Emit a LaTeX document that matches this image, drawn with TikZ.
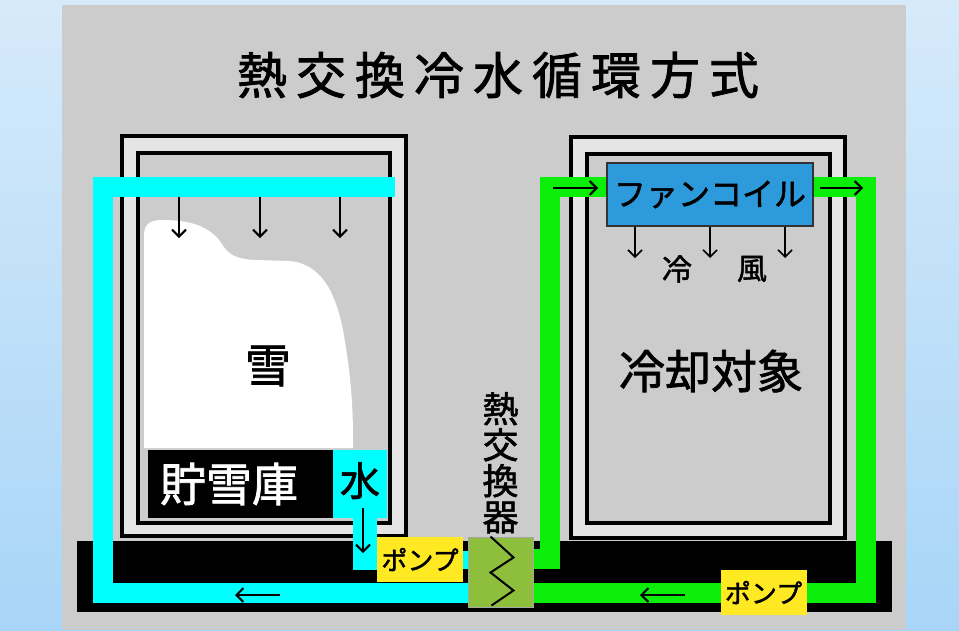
\documentclass[tikz,border=0pt]{standalone}
\usepackage{fontspec}
\setmainfont{Noto Sans CJK JP}[FakeBold=1.6]
\newfontfamily\titlefont{Noto Sans CJK JP}[LetterSpace=18,FakeBold=1.6]
\usetikzlibrary{arrows.meta,positioning}
\definecolor{skytop}{RGB}{214,234,250}
\definecolor{skybot}{RGB}{168,213,247}
\definecolor{panelgray}{RGB}{204,204,204}
\definecolor{wallgray}{RGB}{229,229,229}
\definecolor{aqua}{RGB}{0,255,255}
\definecolor{lime}{RGB}{10,238,10}
\definecolor{hxgreen}{RGB}{141,190,60}
\definecolor{pumpyellow}{RGB}{255,233,35}
\definecolor{coilblue}{RGB}{45,155,219}
\tikzset{
  wall/.style={draw=black,line width=4pt,fill=wallgray},
  room/.style={draw=black,line width=4pt,fill=panelgray},
  coldpipe/.style={draw=aqua,line width=20pt},
  coilpipe/.style={draw=lime,line width=20pt},
  flow/.style={-{Straight Barb[length=7pt,width=14pt]},line width=2pt},
  pump/.style={fill=pumpyellow,minimum width=86pt,minimum height=45pt,inner sep=0pt,font=\fontsize{26}{26}\selectfont},
  hxbox/.style={fill=hxgreen,draw=gray!70,line width=1pt,minimum width=65pt,minimum height=70pt,inner sep=0pt},
  coil/.style={fill=coilblue,draw=black!80,line width=1.5pt,minimum width=206pt,minimum height=63pt,inner sep=0pt,font=\fontsize{32}{32}\selectfont},
  big/.style={font=\fontsize{46}{46}\selectfont,inner sep=0pt}
}
\begin{document}
\begin{tikzpicture}[x=1pt,y=-1pt]
\useasboundingbox (0,0) rectangle (959,630);
\shade[top color=skytop,bottom color=skybot] (0,0) rectangle (959,630);
\fill[panelgray] (62,5) rectangle (906,630);
\node[font=\titlefont\fontsize{50}{50}\selectfont,inner sep=0pt] (title) at (498,75) {熱交換冷水循環方式};

% snow store and cooled room
\draw[wall] (122,136) rectangle (406,536);
\draw[room] (138,153) rectangle (390,523);
\draw[wall] (571,137) rectangle (845,538);
\draw[room] (587,154) rectangle (830,523);

% snow pile
\fill[white] (144,448) -- (144,236) .. controls (144,224) and (150,220) .. (162,220)
  .. controls (190,220) and (210,226) .. (222,244) .. controls (228,254) and (235,259) .. (255,260)
  -- (290,261) .. controls (320,264) and (335,290) .. (343,330)
  .. controls (350,370) and (353,400) .. (353,440) -- (353,448) -- cycle;
\node[big] (snow) at (268,366) {雪};
\node[big] (target) at (711,371) {冷却対象};

\node[fill=black,text=white,font=\fontsize{46}{46}\selectfont,text width=161pt,align=left,inner xsep=12pt,inner ysep=0pt,minimum height=68pt] (store) at (240.5,484) {貯雪庫};
\node[fill=aqua,minimum width=54pt,minimum height=68pt,inner sep=0pt,text depth=10pt,font=\fontsize{40}{40}\selectfont] (water) at (360,484) {水};

% base under both houses
\fill[black] (77,541) rectangle (892,612);

\node[hxbox] (hx) at (500.5,572) {};
\node[align=center,font=\fontsize{36}{36}\selectfont,inner sep=0pt] (hxlabel) [above=3pt of hx] {熱\\交\\換\\器};
\draw[line width=2pt] ([xshift=-10pt]hx.north) -- ++(23,21) -- ++(-23,15) -- ++(23,18) -- ++(-22,15);
\node[coil] (fc) at (710,194.5) {ファンコイル};
\node[pump] (pumpL) at (420,559.5) {ポンプ};

% cold water side
\coordinate (upL) at (103,187);
\coordinate (sprayend) at (395,187);
\coordinate (drain) at (365,570);
\draw[coldpipe] (hx.west |- 0,592.5) -| (upL) -- (sprayend);
\draw[coldpipe,line width=24pt] (water.south -| drain) -- (drain);
\draw[coldpipe,line width=18pt] (pumpL.east) -- (pumpL.east -| hx.west);

% cooling loop
\coordinate (riseL) at (550,187);
\coordinate (riseR) at (866,187);
\draw[coilpipe] (hx.east |- 0,559) -| (riseL) -- (fc.west |- riseL);
\draw[coilpipe] (fc.east |- riseR) -- (riseR) |- (hx.east |- 0,593);
\node[pump] (pumpR) at (763.5,592.5) {ポンプ};

% flow arrows
\foreach \x in {179,260,340} \draw[flow] (\x,197) -- (\x,238);
\foreach \x in {635,710,785} \draw[flow,line width=1.6pt] (fc.south -| \x,0) -- (\x,258);
\node[font=\fontsize{30}{30}\selectfont,inner sep=0pt] (coldL) at (677,269) {冷};
\node[font=\fontsize{30}{30}\selectfont,inner sep=0pt] (coldR) at (752,269) {風};
\draw[flow] (363,508) -- (363,553);
\draw[flow] (280,595) -- (235,595);
\draw[flow] (685,595) -- (640,595);
\draw[flow] (553,188) -- (598,188);
\draw[flow] (820,188) -- (863,188);
\end{tikzpicture}
\end{document}
